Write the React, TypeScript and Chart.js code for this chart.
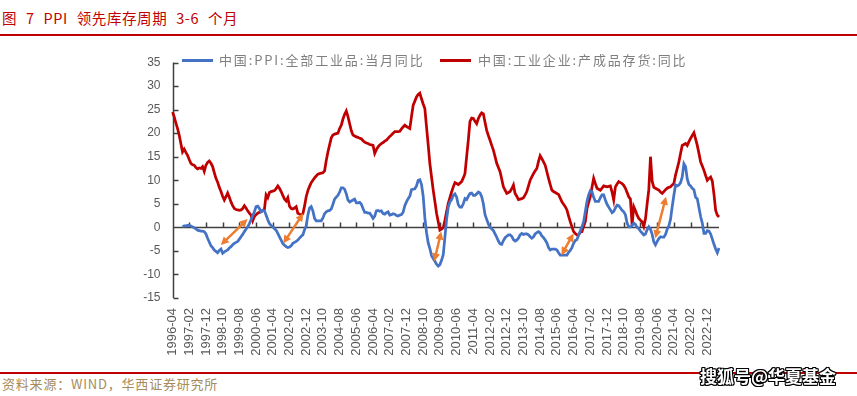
import { useEffect, useRef } from 'react';
import { Chart, registerables } from 'chart.js';

Chart.register(...registerables);

// ---- categories (monthly, 1996-04 .. 2023-07) ----
const START_YEAR = 1996;
const START_MONTH = 4;
const MONTH_COUNT = 328;
const months: string[] = [];
for (let i = 0; i < MONTH_COUNT; i++) {
  const t = START_MONTH - 1 + i;
  const yy = START_YEAR + Math.floor(t / 12);
  const mm = (t % 12) + 1;
  months.push(`${yy}-${String(mm).padStart(2, '0')}`);
}
const LABEL_STEP = 10;

// ---- series: 中国:PPI:全部工业品:当月同比 ----
const ppiYoY: (number | null)[] = [
  null, null, null, null, null, null, 0.1, 0.3, 0.3,
  0.4, 0.4, 0.3, 0.1, -0.1, -0.3, -0.6, -0.7, -0.8, -0.8, -0.9, -1.4,
  -2.3, -3.1, -3.9, -4.3, -4.8, -5.1, -5.4, -4.9, -4.6, -5.5, -5.2, -5.0,
  -4.8, -4.4, -4.1, -3.7, -3.4, -3.2, -3.0, -2.5, -2.0, -1.5, -0.9, -0.4,
  0.1, 0.8, 1.6, 2.5, 3.3, 4.4, 4.5, 4.0, 3.3, 3.6, 3.5, 2.6,
  1.6, 0.8, 0.4, 0.1, -0.3, -0.6, -1.3, -2.0, -2.7, -3.4, -3.8, -4.1,
  -4.3, -4.2, -3.9, -3.4, -3.2, -3.0, -2.7, -2.3, -1.9, -1.6, -0.5, 0.3,
  2.6, 4.1, 4.4, 3.5, 1.9, 1.4, 1.4, 1.4, 1.4, 2.0, 2.9, 3.3,
  3.5, 3.6, 3.9, 4.9, 6.0, 6.4, 6.8, 7.5, 8.4, 8.4, 8.1, 7.1,
  5.8, 5.4, 5.6, 5.8, 6.0, 5.2, 5.2, 5.3, 4.9, 4.0, 3.2, 3.2,
  3.0, 3.0, 2.5, 1.9, 2.4, 3.5, 3.6, 3.4, 3.5, 2.9, 2.8, 3.1,
  3.3, 2.6, 2.7, 2.9, 2.8, 2.5, 2.4, 2.6, 2.7, 3.2, 4.6, 5.4,
  6.1, 6.6, 8.0, 8.1, 8.2, 8.8, 10.0, 10.1, 9.1, 6.6, 2.0, -1.1,
  -3.3, -4.5, -6.0, -6.6, -7.2, -7.8, -8.2, -7.9, -7.0, -5.8, -2.1, 1.7,
  4.3, 5.4, 5.9, 6.8, 7.1, 6.4, 4.8, 4.3, 4.3, 5.0, 6.1, 5.9,
  6.6, 7.2, 7.3, 6.8, 6.8, 7.1, 7.5, 7.3, 6.5, 5.0, 2.7, 1.7,
  0.7, 0.0, -0.3, -0.7, -1.4, -2.1, -2.9, -3.5, -3.6, -2.8, -2.2, -1.9,
  -1.6, -1.6, -1.9, -2.6, -2.9, -2.7, -2.3, -1.6, -1.3, -1.5, -1.4, -1.4,
  -1.6, -2.0, -2.3, -2.0, -1.4, -1.1, -0.9, -1.2, -1.8, -2.2, -2.7, -3.3,
  -4.3, -4.8, -4.6, -4.6, -4.6, -4.8, -5.4, -5.9, -5.9, -5.9, -5.9, -5.9,
  -5.3, -4.9, -4.3, -3.4, -2.8, -2.6, -1.7, -0.8, 0.1, 1.2, 3.3, 5.5,
  6.9, 7.8, 7.6, 6.4, 5.5, 5.5, 5.5, 6.3, 6.9, 6.9, 5.8, 4.9,
  4.3, 3.7, 3.1, 3.4, 4.1, 4.7, 4.6, 4.1, 3.6, 3.3, 2.7, 0.9,
  0.1, 0.1, 0.4, 0.9, 0.6, 0.0, -0.3, -0.8, -1.2, -1.6, -1.4, -0.5,
  0.1, -0.4, -1.5, -3.1, -3.7, -3.0, -2.4, -2.0, -2.1, -2.1, -1.5, -0.4,
  0.3, 1.7, 4.4, 6.8, 9.0, 8.8, 9.0, 9.5, 10.7, 13.5, 12.9, 10.3,
  9.1, 8.8, 8.3, 8.0, 6.4, 6.1, 4.2, 2.3, 0.9, -1.3, -1.3, -0.7,
  -0.8, -1.4, -2.5, -3.6, -4.6, -5.4, -4.4,
];

// ---- series: 中国:工业企业:产成品存货:同比 ----
const inventoryYoY: (number | null)[] = [
  24.5, 23.5, 22.2, 21.0, 19.6, 17.8, 16.0, 16.6, 15.9,
  15.3, 14.4, 13.6, 13.3, 13.2, 12.7, 12.4, 12.6, 12.5, 12.9, 11.9, 13.2,
  13.8, 14.1, 13.6, 12.9, 11.6, 10.4, 9.6, 8.5, 7.6, 6.6, 5.8, 6.5,
  7.3, 6.4, 5.4, 4.6, 4.0, 3.8, 3.7, 3.6, 3.7, 4.0, 4.6, 4.1,
  3.5, 3.0, 2.6, 1.4, 2.3, 2.7, 3.0, 3.2, 3.3, 3.6, 3.8, 6.9,
  6.3, 7.4, 7.6, 7.7, 7.8, 8.2, 8.8, 8.3, 7.6, 6.8, 6.0, 5.6,
  6.3, 4.5, 4.0, 3.9, 4.1, 4.4, 3.0, 2.8, 2.6, 2.9, 4.5, 6.5,
  7.8, 8.7, 9.5, 10.0, 10.5, 10.9, 11.3, 11.4, 11.5, 11.6, 12.0, 14.2,
  16.0, 17.5, 19.0, 19.6, 19.8, 19.9, 20.0, 21.0, 21.7, 23.0, 24.0, 24.7,
  23.5, 22.0, 20.5, 19.6, 19.4, 19.2, 19.1, 18.9, 18.8, 18.4, 18.1, 17.9,
  17.8, 17.6, 17.5, 17.4, 15.7, 16.5, 17.1, 17.5, 17.8, 18.0, 18.3, 18.5,
  18.9, 19.3, 19.6, 20.0, 20.3, 20.3, 20.3, 20.4, 20.9, 21.3, 21.7, 21.4,
  21.2, 21.0, 23.5, 25.9, 26.8, 27.7, 28.2, 28.5, 27.3, 26.2, 25.2, 21.3,
  17.5, 13.5, 10.7, 7.9, 5.5, 3.0, 1.2, -0.6, -0.4, -0.1, 1.5, 3.3,
  5.1, 6.3, 7.5, 8.6, 9.5, 9.3, 9.1, 9.4, 9.7, 10.5, 11.4, 15.0,
  18.5, 22.5, 23.2, 23.1, 22.5, 22.0, 23.1, 23.8, 24.3, 24.1, 22.3, 20.6,
  19.5, 18.5, 17.4, 16.4, 15.0, 13.6, 12.7, 11.8, 10.2, 8.6, 7.9, 7.2,
  7.4, 7.6, 8.2, 9.0, 7.2, 6.6, 5.9, 6.0, 6.1, 6.3, 6.9, 7.6,
  8.8, 10.0, 10.7, 11.4, 12.0, 12.5, 14.0, 15.2, 14.6, 13.9, 13.2, 11.8,
  10.4, 9.1, 7.9, 7.6, 7.4, 7.2, 7.0, 6.2, 5.4, 4.9, 4.4, 3.7,
  2.4, 1.2, 0.1, -0.9, -1.3, -1.6, -1.6, -1.0, -0.9, 0.2, 1.2, 4.0,
  5.3, 6.5, 8.5, 10.4, 9.3, 8.3, 8.1, 7.9, 8.3, 8.8, 8.7, 8.6,
  8.7, 8.8, 7.5, 5.8, 8.6, 9.2, 9.7, 9.5, 9.3, 8.9, 8.3, 7.4,
  6.5, 6.0, 0.5, 4.4, 3.6, 2.6, 1.9, 1.5, 1.2, 0.2, 1.8, 5.0,
  8.0, 15.0, 9.8, 8.5, 8.3, 8.1, 7.9, 7.5, 7.2, 7.6, 8.0, 8.3,
  8.5, 8.6, 9.0, 9.3, 11.1, 12.5, 13.9, 15.7, 17.4, 17.6, 17.8, 17.4,
  18.2, 18.9, 19.5, 20.1, 18.8, 17.4, 15.7, 13.9, 13.0, 12.1, 11.0, 10.0,
  10.4, 10.7, 9.8, 7.0, 3.6, 2.6, 2.2,
];

// ---- y axis ----
const Y_MIN = -15;
const Y_MAX = 35;
const Y_STEP = 5;

// ---- arrow annotations: [month index, value] ----
const arrowFrom: [number, number][] = [
  [28.9, -3.75], [66.3, -3.4], [156.6, -7.2], [232.7, -5.9], [288.9, -2.3],
];
const arrowTo: [number, number][] = [
  [44.9, 1.75], [78.3, 3.0], [160.8, -0.9], [240.0, -1.3], [295.3, 6.5],
];

const BLUE = '#4472C4';
const RED = '#C00000';
const ORANGE = '#ED7D31';
const AXIS = '#404040';
const TICK_TEXT = '#595959';

function drawArrowHead(ctx: CanvasRenderingContext2D, tx: number, ty: number, ang: number) {
  const len = 8;
  const half = 4;
  ctx.beginPath();
  ctx.moveTo(tx, ty);
  ctx.lineTo(tx - len * Math.cos(ang) + half * Math.sin(ang), ty - len * Math.sin(ang) - half * Math.cos(ang));
  ctx.lineTo(tx - len * Math.cos(ang) - half * Math.sin(ang), ty - len * Math.sin(ang) + half * Math.cos(ang));
  ctx.closePath();
  ctx.fill();
}

const decorPlugin = {
  id: 'decor',
  beforeDatasetsDraw(chart: any) {
    const { ctx, chartArea, scales } = chart;
    const x = scales.x;
    const y = scales.y;
    const y0 = Math.round(y.getPixelForValue(0)) + 0.5;
    const left = Math.round(chartArea.left) + 0.5;
    ctx.save();
    ctx.strokeStyle = AXIS;
    ctx.lineWidth = 1.5;
    ctx.beginPath();
    ctx.moveTo(left, y.getPixelForValue(Y_MAX));
    ctx.lineTo(left, y.getPixelForValue(Y_MIN));
    y.ticks.forEach((t: any) => {
      const py = Math.round(y.getPixelForValue(t.value)) + 0.5;
      ctx.moveTo(left, py);
      ctx.lineTo(left + 5, py);
    });
    ctx.moveTo(left, y0);
    ctx.lineTo(chartArea.right, y0);
    for (let i = LABEL_STEP; i < months.length; i += LABEL_STEP) {
      const px = Math.round(x.getPixelForValue(i)) + 0.5;
      ctx.moveTo(px, y0);
      ctx.lineTo(px, y0 - 5);
    }
    ctx.stroke();
    ctx.restore();
  },
  afterDatasetsDraw(chart: any) {
    const { ctx, scales } = chart;
    const x = scales.x;
    const y = scales.y;
    ctx.save();
    ctx.strokeStyle = ORANGE;
    ctx.fillStyle = ORANGE;
    ctx.lineWidth = 2.5;
    arrowFrom.forEach((a, k) => {
      const b = arrowTo[k];
      const x1 = x.getPixelForValue(a[0]);
      const y1 = y.getPixelForValue(a[1]);
      const x2 = x.getPixelForValue(b[0]);
      const y2 = y.getPixelForValue(b[1]);
      const ang = Math.atan2(y2 - y1, x2 - x1);
      const inset = 6;
      ctx.beginPath();
      ctx.moveTo(x1 + inset * Math.cos(ang), y1 + inset * Math.sin(ang));
      ctx.lineTo(x2 - inset * Math.cos(ang), y2 - inset * Math.sin(ang));
      ctx.stroke();
      drawArrowHead(ctx, x2, y2, ang);
      drawArrowHead(ctx, x1, y1, ang + Math.PI);
    });
    ctx.restore();
  },
};

export default function App() {
  const canvasRef = useRef<HTMLCanvasElement | null>(null);

  useEffect(() => {
    if (!canvasRef.current) return;
    const chart = new Chart(canvasRef.current, {
      type: 'line',
      data: {
        labels: months,
        datasets: [
          {
            label: '中国:PPI:全部工业品:当月同比',
            data: ppiYoY,
            borderColor: BLUE,
            backgroundColor: BLUE,
            borderWidth: 2.75,
            pointRadius: 0,
            tension: 0,
            spanGaps: true,
          },
          {
            label: '中国:工业企业:产成品存货:同比',
            data: inventoryYoY,
            borderColor: RED,
            backgroundColor: RED,
            borderWidth: 2.75,
            pointRadius: 0,
            tension: 0,
            spanGaps: true,
          },
        ],
      },
      options: {
        animation: false,
        responsive: false,
        devicePixelRatio: 1,
        layout: { padding: { left: 132.5, right: 138, top: 22.5, bottom: 12 } },
        plugins: {
          legend: { display: false },
          tooltip: { enabled: false },
        },
        scales: {
          x: {
            type: 'category',
            offset: false,
            grid: { display: false, drawTicks: false },
            border: { display: false },
            ticks: {
              autoSkip: false,
              minRotation: 90,
              maxRotation: 90,
              padding: 10,
              color: TICK_TEXT,
              font: { family: 'Liberation Sans', size: 13 },
              callback: (_v: any, index: number) => (index % LABEL_STEP === 0 ? months[index] : ''),
            },
            afterFit: (scale: any) => {
              scale.height = 60;
            },
          },
          y: {
            min: Y_MIN,
            max: Y_MAX,
            grid: { display: false, drawTicks: false },
            border: { display: false },
            ticks: {
              stepSize: Y_STEP,
              padding: 12,
              color: TICK_TEXT,
              font: { family: 'Liberation Sans', size: 12 },
            },
            afterFit: (scale: any) => {
              scale.width = 40;
            },
          },
        },
      },
      plugins: [decorPlugin],
    } as any);
    return () => chart.destroy();
  }, []);

  const legendText: React.CSSProperties = {
    position: 'absolute',
    top: 52,
    fontFamily: '"Noto Sans CJK SC", sans-serif',
    fontSize: 13,
    lineHeight: '16px',
    letterSpacing: '1.85px',
    color: '#7F7F7F',
    whiteSpace: 'nowrap',
  };

  return (
    <div style={{ position: 'absolute', left: 0, top: 0, width: 857, height: 396, background: '#fff', overflow: 'hidden' }}>
      <div
        style={{
          position: 'absolute',
          left: 2,
          top: 7,
          fontFamily: '"Noto Sans CJK SC", sans-serif',
          fontSize: 14.5,
          lineHeight: '22px',
          letterSpacing: '0.6px',
          wordSpacing: '5px',
          color: RED,
          whiteSpace: 'nowrap',
        }}
      >
        图 7 PPI 领先库存周期 3-6 个月
      </div>
      <div style={{ position: 'absolute', left: 0, top: 34, width: 857, height: 2, background: RED }} />

      <canvas ref={canvasRef} width={857} height={330} style={{ position: 'absolute', left: 0, top: 40 }} />

      <div style={{ position: 'absolute', left: 182, top: 58.5, width: 31, height: 3, background: BLUE }} />
      <div style={{ ...legendText, left: 219 }}>中国:PPI:全部工业品:当月同比</div>
      <div style={{ position: 'absolute', left: 440, top: 58.5, width: 31, height: 3, background: RED }} />
      <div style={{ ...legendText, left: 478 }}>中国:工业企业:产成品存货:同比</div>

      <div style={{ position: 'absolute', left: 0, top: 372, width: 857, height: 2, background: RED }} />
      <div
        style={{
          position: 'absolute',
          left: 2,
          top: 375,
          fontFamily: '"Noto Sans CJK SC", sans-serif',
          fontSize: 13,
          lineHeight: '17px',
          letterSpacing: '0.8px',
          color: '#A68B5B',
          whiteSpace: 'nowrap',
        }}
      >
        资料来源：WIND，华西证券研究所
      </div>
      <div
        style={{
          position: 'absolute',
          left: 700,
          top: 365,
          fontFamily: '"Noto Sans CJK SC", sans-serif',
          fontSize: 17,
          fontWeight: 700,
          lineHeight: '22px',
          color: '#ffffff',
          whiteSpace: 'nowrap',
          textShadow:
            '1px 0 0 #000, -1px 0 0 #000, 0 1px 0 #000, 0 -1px 0 #000, 1px 1px 0 #000, -1px -1px 0 #000, 1px -1px 0 #000, -1px 1px 0 #000',
        }}
      >
        搜狐号@华夏基金
      </div>
    </div>
  );
}
